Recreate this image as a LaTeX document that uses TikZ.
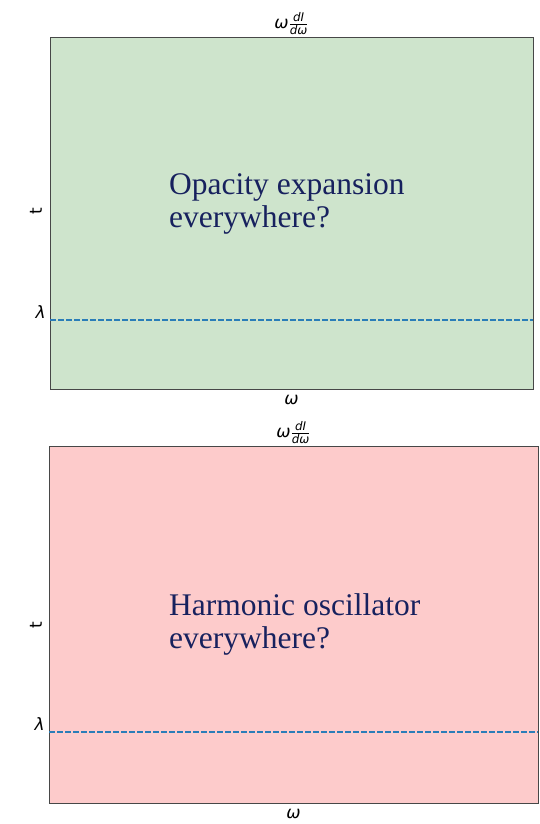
\documentclass[tikz,border=0pt]{standalone}
\usepackage{amsmath}
\usepackage{fontspec}
\setmainfont{Liberation Serif}
\newfontfamily\axisfont{DejaVu Sans}
\usetikzlibrary{positioning}
\definecolor{greenpanel}{HTML}{CEE4CC}
\definecolor{redpanel}{HTML}{FDCBCB}
\definecolor{dashblue}{HTML}{2A7DB8}
\definecolor{navytext}{HTML}{17215E}
\begin{document}
\begin{tikzpicture}[x=1pt, y=-1pt,
    panel/.style={draw=black!72, line width=0.85pt, inner sep=0pt},
    axislabel/.style={font=\axisfont\itshape\fontsize{17}{19}\selectfont, inner sep=1pt},
    ylabel/.style={font=\axisfont\fontsize{17}{19}\selectfont, inner sep=1pt, rotate=90},
    question/.style={font=\fontsize{31.5}{32.5}\selectfont, text=navytext, align=left, anchor=north west, inner sep=0pt},
    cutline/.style={dashblue, dash pattern=on 5.5pt off 2.5pt, line width=1.2pt}]
    \useasboundingbox (0,0) rectangle (539,824);
    % top panel
    \node[panel, fill=greenpanel, minimum width=483pt, minimum height=352pt] (opac) at (291.5,213) {};
    \node[axislabel, above=1pt of opac] (opactitle) {$\text{ω}\frac{\text{dI}}{\text{dω}}$};
    \node[axislabel, below=5pt of opac] (opacw) {ω};
    \node[ylabel] (opact) at (36,211) {t};
    \coordinate (opacl) at (50,320);
    \coordinate (opacr) at (533,320);
    \node[axislabel, left=3pt of opacl, yshift=8pt] (opaclam) {λ};
    \draw[cutline] (opacl) -- (opacr);
    \node[question] (opactext) at (169,173.5) {Opacity expansion\\everywhere?};
    % bottom panel
    \node[panel, fill=redpanel, minimum width=489pt, minimum height=357pt] (harm) at (293.5,624.5) {};
    \node[axislabel, above=1pt of harm] (harmtitle) {$\text{ω}\frac{\text{dI}}{\text{dω}}$};
    \node[axislabel, below=5pt of harm] (harmw) {ω};
    \node[ylabel] (harmt) at (36,625) {t};
    \coordinate (harml) at (49,732);
    \coordinate (harmr) at (538,732);
    \node[axislabel, left=3pt of harml, yshift=8pt] (harmlam) {λ};
    \draw[cutline] (harml) -- (harmr);
    \node[question] (harmtext) at (169,593.5) {Harmonic oscillator\\everywhere?};
\end{tikzpicture}
\end{document}
